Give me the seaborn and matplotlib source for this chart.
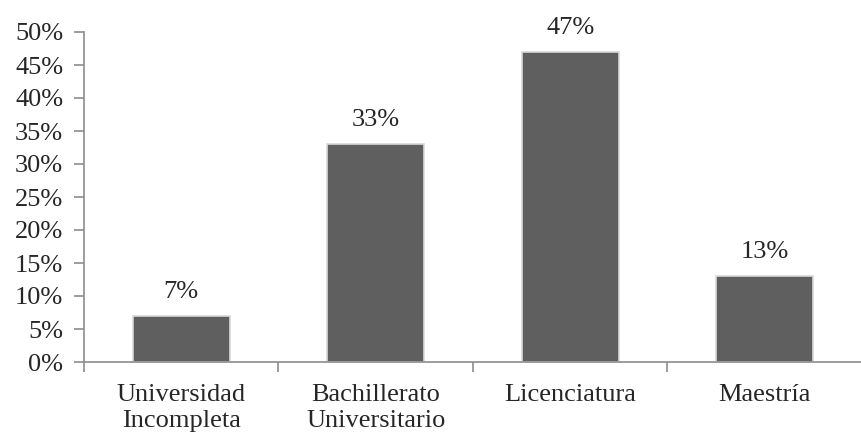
import matplotlib
matplotlib.use('Agg')
import matplotlib.pyplot as plt
import pandas as pd
import seaborn as sns
from matplotlib.ticker import MultipleLocator, FuncFormatter

# Datos
categorias = ["Universidad\nIncompleta", "Bachillerato\nUniversitario", "Licenciatura", "Maestría"]
porcentajes = [7, 33, 47, 13]

df = pd.DataFrame({"categoria": categorias, "porcentaje": porcentajes})

sns.set_style("white")
plt.rcParams['font.family'] = ['Liberation Serif', 'DejaVu Serif']

fig = plt.figure(figsize=(8.62, 4.36), dpi=100)
ax = fig.add_axes([84 / 862, 74 / 436, 1 - 84 / 862, 330 / 436])

sns.barplot(data=df, x="categoria", y="porcentaje", color="#5f5f5f",
            width=0.5, edgecolor="#d9d9d9", linewidth=1.2, saturation=1, ax=ax)

# Etiquetas sobre las barras
for p, v in zip(ax.patches, porcentajes):
    ax.text(p.get_x() + p.get_width() / 2, v + 2.7, f"{v}%",
            ha="center", va="baseline", fontsize=19)

ax.set_ylim(0, 50)
ax.set_xlim(-0.5, 3.45)
ax.yaxis.set_major_locator(MultipleLocator(5))
ax.yaxis.set_major_formatter(FuncFormatter(lambda v, _: f"{v:.0f}%"))

# Ticks del eje x entre categorias
ax.set_xticks([-0.5, 0.5, 1.5, 2.5, 3.5])
ax.set_xticklabels([])
ax.set_xticks(range(len(categorias)), minor=True)
ax.set_xticklabels(categorias, minor=True)
ax.tick_params(axis="x", which="minor", bottom=True, length=0, pad=16, labelsize=19)
ax.tick_params(axis="x", which="major", bottom=True, length=7, width=1.2,
               color="#8c8c8c", direction="out")
ax.tick_params(axis="y", left=True, length=7, width=1.2, color="#8c8c8c",
               direction="out", labelsize=19, pad=8)
ax.set_xlabel("")
ax.set_ylabel("")

for side in ["top", "right"]:
    ax.spines[side].set_visible(False)
for side in ["left", "bottom"]:
    ax.spines[side].set_color("#8c8c8c")
    ax.spines[side].set_linewidth(1.2)

fig.savefig("out.png", dpi=100)
